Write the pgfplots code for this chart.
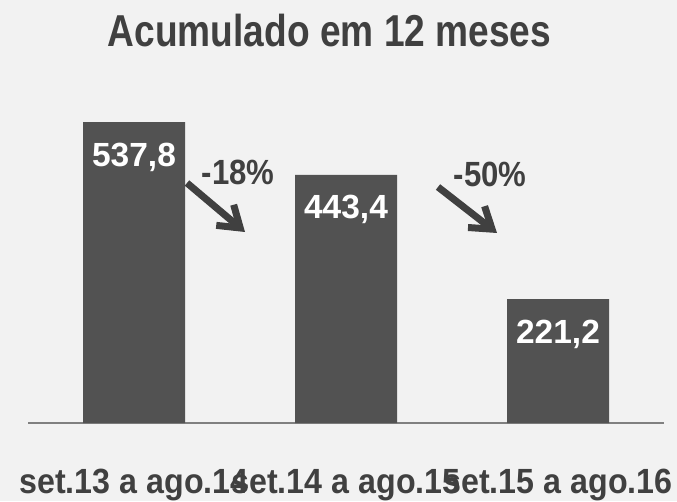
\documentclass[border=0pt]{standalone}
\usepackage{fontspec}
\setmainfont{Liberation Sans}
\newfontfamily\titlefont{Liberation Sans}[FakeStretch=0.83]
\newfontfamily\tickfont{Liberation Sans}[FakeStretch=0.92]
\newfontfamily\pctfont{Liberation Sans}[FakeStretch=0.89]
\usepackage{pgfplots}
\pgfplotsset{compat=1.18}
\usetikzlibrary{arrows.meta}
\definecolor{bg}{HTML}{F2F2F2}
\definecolor{bargray}{HTML}{525252}
\definecolor{textgray}{HTML}{404040}
\definecolor{axisgray}{HTML}{808080}
\begin{document}
\begin{tikzpicture}[x=1pt,y=1pt]
\path[use as bounding box] (0,0) rectangle (677,501);
\fill[bg] (0,0) rectangle (677,501);
\begin{axis}[
  at={(28pt,78pt)}, anchor=south west,
  scale only axis, width=636pt, height=335.8pt,
  xmin=-0.5, xmax=2.5, ymin=0, ymax=600,
  axis x line*=bottom, hide y axis,
  axis line style={-, draw=axisgray, line width=2pt},
  xtick={0,1,2}, major tick length=0,
  xticklabels={set.13 a ago.14, set.14 a ago.15, set.15 a ago.16},
  xticklabel style={anchor=base, yshift=-70pt, text=textgray,
    font=\tickfont\bfseries\fontsize{35}{40}\selectfont},
  ybar, bar width=102pt,
  point meta=explicit symbolic,
  nodes near coords,
  every node near coord/.append style={anchor=center, yshift=-35pt,
    text=white, font=\bfseries\fontsize{33.5}{38}\selectfont},
  clip=false,
]
\addplot[fill=bargray, draw=none] coordinates {
  (0,537.8) [537,8]
  (1,443.4) [443,4]
  (2,221.2) [221,2]
};
\end{axis}
\node[anchor=base, text=textgray, font=\titlefont\bfseries\fontsize{44.7}{50}\selectfont] at (329.5,454) {Acumulado em 12 meses};
\node[anchor=base, text=textgray, font=\pctfont\bfseries\fontsize{35}{40}\selectfont] at (238,316) {-18\%};
\node[anchor=base, text=textgray, font=\pctfont\bfseries\fontsize{35}{40}\selectfont] at (490,314) {-50\%};
\draw[textgray, line width=7pt, -{Straight Barb[length=20pt,width=27pt]}] (187,318) -- (245,269);
\draw[textgray, line width=7pt, -{Straight Barb[length=20pt,width=27pt]}] (438,314) -- (497,268);
\end{tikzpicture}
\end{document}
